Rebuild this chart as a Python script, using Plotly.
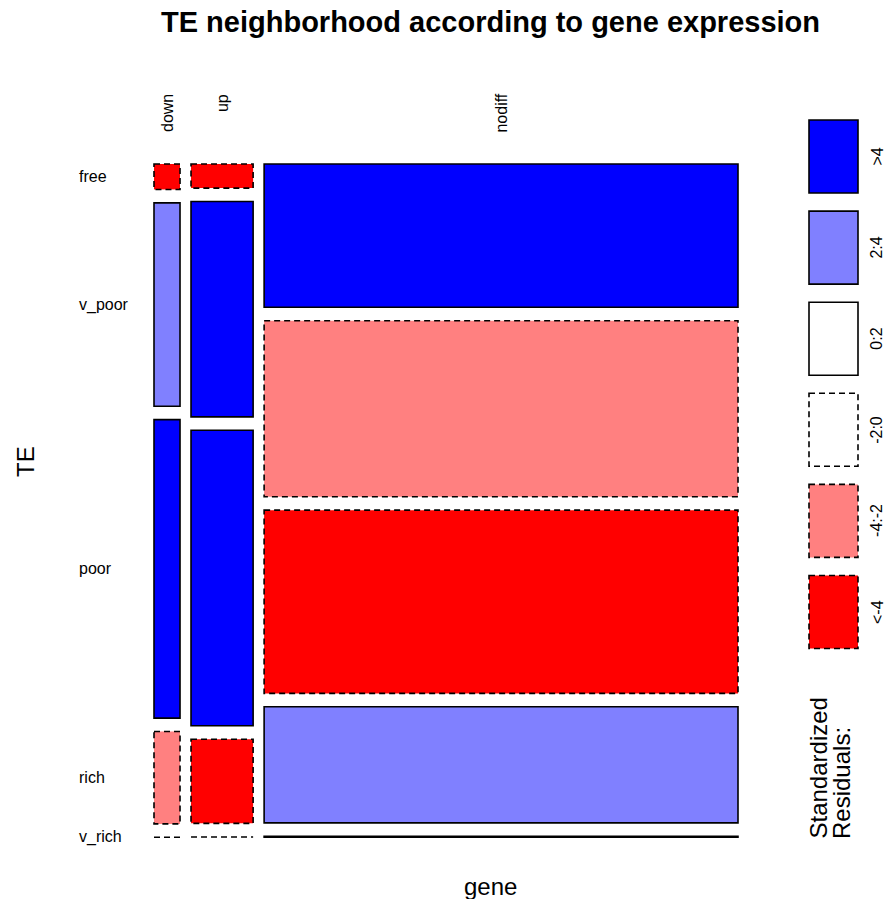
import plotly.graph_objects as go

# ---------------- data ----------------
columns = ["down", "up", "nodiff"]
rows = ["free", "v_poor", "poor", "rich", "v_rich"]
counts_down = [19, 152, 223, 69, 0]
counts_up = [43, 384, 527, 150, 1]
counts_nodiff = [1950, 2395, 2494, 1579, 14]
# standardized residual class of each cell, as shaded in the picture
shade_down = ["<-4", "2:4", ">4", "-4:-2", "-2:0"]
shade_up = ["<-4", ">4", ">4", "<-4", "-2:0"]
shade_nodiff = [">4", "-4:-2", "<-4", "2:4", "0:2"]
legend_classes = [">4", "2:4", "0:2", "-2:0", "-4:-2", "<-4"]

counts = [counts_down, counts_up, counts_nodiff]
shades = [shade_down, shade_up, shade_nodiff]

FILL = {">4": "#0000FF", "2:4": "#8080FF", "0:2": "#FFFFFF",
        "-2:0": "#FFFFFF", "-4:-2": "#FF8080", "<-4": "#FF0000"}
NEG = {"-2:0", "-4:-2", "<-4"}
DASH = "6px,4px"
LW = 1.6
FONT = "Liberation Sans, Arial, Helvetica, sans-serif"

W, H = 886, 899
# mosaic frame in pixels (layout constants)
FX0, FW = 154.0, 584.0
FY0, FH = 164.0, 673.3
GAPX = 11.0 / FW
GAPY = 13.4 / FH


def X(px):
    return (px - FX0) / FW


def Y(py):
    return (py - FY0) / FH


fig = go.Figure()
shapes = []
annotations = []

total = sum(sum(c) for c in counts)
ncol = len(columns)
nrow = len(rows)
avail_x = 1.0 - GAPX * (ncol - 1)
avail_y = 1.0 - GAPY * (nrow - 1)

x = 0.0
col_centers = []
row_centers_first = []
for j, col in enumerate(columns):
    ctot = sum(counts[j])
    w = avail_x * ctot / total
    y = 0.0
    for i, r in enumerate(rows):
        h = avail_y * counts[j][i] / ctot
        cls = shades[j][i]
        dash = DASH if cls in NEG else "solid"
        if dash != "solid" and h * FH < 1.0:
            # degenerate (near-empty) cell: draw its collapsed outline once
            shapes.append(dict(
                type="line", xref="x", yref="y",
                x0=x, x1=x + w, y0=y + h / 2, y1=y + h / 2,
                line=dict(color="black", width=LW, dash=dash),
                layer="above"))
        else:
            shapes.append(dict(
                type="rect", xref="x", yref="y",
                x0=x, x1=x + w, y0=y, y1=y + h,
                fillcolor=FILL[cls],
                line=dict(color="black", width=LW, dash=dash),
                layer="above"))
        if j == 0:
            row_centers_first.append(y + h / 2)
        y += h + GAPY
    col_centers.append(x + w / 2)
    x += w + GAPX

# column labels (top, rotated)
for c, name in zip(col_centers, columns):
    annotations.append(dict(x=c, y=Y(92), xref="x", yref="y", text=name,
                            showarrow=False, textangle=-90,
                            xanchor="center", yanchor="top",
                            font=dict(family=FONT, size=16, color="black")))
# row labels (left)
for yc, name in zip(row_centers_first, rows):
    annotations.append(dict(x=X(77), y=yc, xref="x", yref="y", text=name,
                            showarrow=False, xanchor="left", yanchor="middle",
                            font=dict(family=FONT, size=16, color="black")))

# legend boxes
LEG_TOP, LEG_STEP, LEG_H = 120.0, 91.1, 73.0
for k, cls in enumerate(legend_classes):
    t = LEG_TOP + k * LEG_STEP
    shapes.append(dict(
        type="rect", xref="x", yref="y",
        x0=X(809), x1=X(858), y0=Y(t), y1=Y(t + LEG_H),
        fillcolor=FILL[cls],
        line=dict(color="black", width=LW,
                  dash=DASH if cls in NEG else "solid")))
    annotations.append(dict(x=X(877), y=Y(t + LEG_H / 2), xref="x", yref="y",
                            text=cls, showarrow=False, textangle=-90,
                            xanchor="center", yanchor="middle",
                            font=dict(family=FONT, size=16, color="black")))

annotations.append(dict(x=X(818), y=Y(841), xref="x", yref="y",
                        text="Standardized", showarrow=False, textangle=-90,
                        xanchor="center", yanchor="bottom",
                        font=dict(family=FONT, size=24, color="black")))
annotations.append(dict(x=X(841), y=Y(841), xref="x", yref="y",
                        text="Residuals:", showarrow=False, textangle=-90,
                        xanchor="center", yanchor="bottom",
                        font=dict(family=FONT, size=24, color="black")))

# axis titles and main title
annotations.append(dict(x=X(25), y=Y(462), xref="x", yref="y", text="TE",
                        showarrow=False, textangle=-90,
                        xanchor="center", yanchor="middle",
                        font=dict(family=FONT, size=24, color="black")))
annotations.append(dict(x=X(490), y=Y(886), xref="x", yref="y", text="gene",
                        showarrow=False, xanchor="center", yanchor="middle",
                        font=dict(family=FONT, size=24, color="black")))
annotations.append(dict(x=X(490), y=Y(22), xref="x", yref="y",
                        text="<b>TE neighborhood according to gene expression</b>",
                        showarrow=False, xanchor="center", yanchor="middle",
                        font=dict(family=FONT, size=29, color="black")))

fig.update_layout(
    width=W, height=H,
    margin=dict(l=0, r=0, t=0, b=0, pad=0),
    paper_bgcolor="white", plot_bgcolor="white",
    showlegend=False,
    shapes=shapes, annotations=annotations,
    xaxis=dict(range=[X(0), X(W)], visible=False, fixedrange=True),
    yaxis=dict(range=[Y(H), Y(0)], visible=False, fixedrange=True),
)

fig.write_html("out.html", config={"displayModeBar": False},
               post_script="document.body.style.margin='0';document.body.style.overflow='hidden';")
